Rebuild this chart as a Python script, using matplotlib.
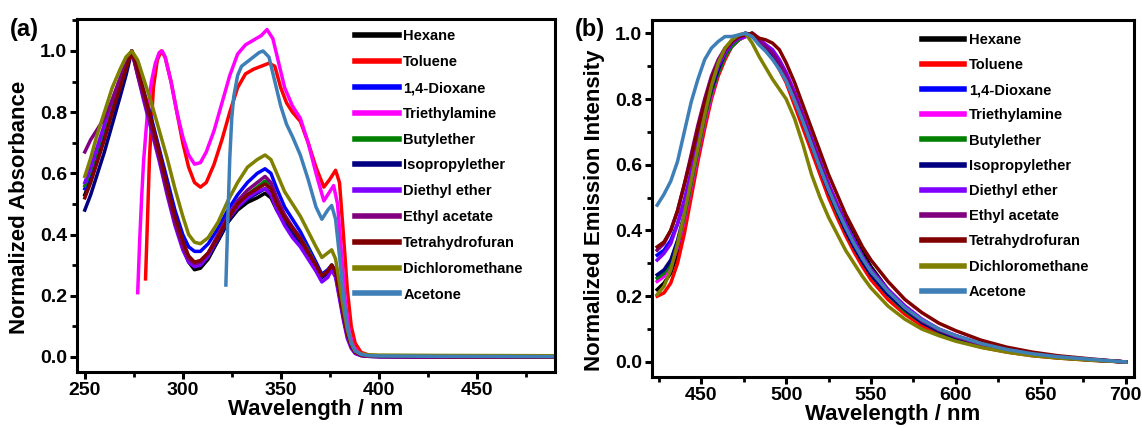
import matplotlib
matplotlib.use("Agg")
import matplotlib.pyplot as plt
from matplotlib.ticker import MultipleLocator

plt.rcParams['font.family'] = ['Liberation Sans', 'DejaVu Sans']
plt.rcParams['font.weight'] = 'bold'

solvents = ["Hexane", "Toluene", "1,4-Dioxane", "Triethylamine", "Butylether",
            "Isopropylether", "Diethyl ether", "Ethyl acetate", "Tetrahydrofuran",
            "Dichloromethane", "Acetone"]
colors = ["#000000", "#ff0000", "#0000ff", "#ff00ff", "#008000", "#000080",
          "#8000ff", "#800080", "#800000", "#808000", "#3f7fb8"]

# ---- (a) absorption ----
xa = [250, 253, 256, 260, 264, 268, 271, 274, 277, 280, 284, 288, 292, 296, 300, 303,
      306, 309, 313, 318, 323, 328, 333, 338, 342, 345, 348, 352, 356, 360, 364, 368,
      371, 374, 376, 378, 380, 382, 384, 386, 388, 391, 395, 400, 430, 490]
abs_hexane = [0.53, 0.58, 0.64, 0.72, 0.80, 0.88, 0.94, 1.00, 0.93, 0.86, 0.76, 0.66, 0.55, 0.44, 0.36, 0.31,
              0.285, 0.29, 0.32, 0.38, 0.44, 0.48, 0.505, 0.52, 0.535, 0.52, 0.48, 0.44, 0.40, 0.37, 0.33, 0.29,
              0.26, 0.275, 0.29, 0.27, 0.20, 0.13, 0.07, 0.035, 0.015, 0.006, 0.003, 0.002, 0.001, 0.0]
abs_dioxane = [0.55, 0.60, 0.66, 0.74, 0.82, 0.90, 0.95, 1.00, 0.94, 0.87, 0.78, 0.68, 0.58, 0.48, 0.40, 0.36,
               0.345, 0.345, 0.37, 0.42, 0.48, 0.53, 0.57, 0.60, 0.615, 0.60, 0.55, 0.49, 0.45, 0.41, 0.36, 0.31,
               0.27, 0.285, 0.30, 0.28, 0.21, 0.14, 0.08, 0.04, 0.018, 0.007, 0.003, 0.002, 0.001, 0.0]
abs_butyl = [0.56, 0.61, 0.67, 0.75, 0.83, 0.90, 0.95, 1.00, 0.93, 0.86, 0.76, 0.66, 0.55, 0.45, 0.37, 0.32,
             0.30, 0.305, 0.33, 0.39, 0.45, 0.50, 0.53, 0.555, 0.575, 0.56, 0.51, 0.46, 0.42, 0.39, 0.35, 0.30,
             0.265, 0.28, 0.30, 0.28, 0.21, 0.14, 0.075, 0.037, 0.016, 0.006, 0.003, 0.002, 0.001, 0.0]
abs_isopropyl = [0.48, 0.53, 0.59, 0.67, 0.76, 0.85, 0.92, 1.00, 0.93, 0.86, 0.76, 0.66, 0.55, 0.44, 0.36, 0.315,
                 0.295, 0.30, 0.33, 0.38, 0.44, 0.49, 0.515, 0.535, 0.55, 0.535, 0.49, 0.445, 0.41, 0.375, 0.335, 0.29,
                 0.26, 0.275, 0.295, 0.27, 0.20, 0.13, 0.07, 0.034, 0.014, 0.005, 0.002, 0.001, 0.0, 0.0]
abs_diethyl = [0.57, 0.62, 0.68, 0.76, 0.84, 0.91, 0.96, 1.00, 0.92, 0.84, 0.74, 0.64, 0.53, 0.43, 0.35, 0.31,
               0.295, 0.30, 0.33, 0.39, 0.45, 0.49, 0.52, 0.54, 0.55, 0.53, 0.48, 0.43, 0.39, 0.36, 0.32, 0.28,
               0.245, 0.26, 0.285, 0.26, 0.19, 0.12, 0.06, 0.028, 0.011, 0.004, 0.002, 0.001, 0.0, 0.0]
abs_ethylac = [0.67, 0.71, 0.74, 0.78, 0.84, 0.91, 0.96, 1.00, 0.92, 0.85, 0.75, 0.65, 0.54, 0.44, 0.36, 0.32,
               0.305, 0.31, 0.34, 0.40, 0.46, 0.51, 0.545, 0.57, 0.59, 0.57, 0.52, 0.465, 0.425, 0.39, 0.345, 0.30,
               0.265, 0.28, 0.30, 0.28, 0.21, 0.13, 0.07, 0.033, 0.014, 0.005, 0.002, 0.001, 0.0, 0.0]
abs_thf = [0.52, 0.57, 0.63, 0.71, 0.80, 0.88, 0.94, 1.00, 0.94, 0.87, 0.77, 0.67, 0.56, 0.46, 0.38, 0.33,
           0.31, 0.315, 0.34, 0.39, 0.45, 0.50, 0.53, 0.55, 0.565, 0.55, 0.50, 0.455, 0.42, 0.385, 0.34, 0.30,
           0.265, 0.28, 0.30, 0.28, 0.21, 0.14, 0.075, 0.037, 0.016, 0.006, 0.003, 0.002, 0.001, 0.0]
abs_dcm = [0.59, 0.65, 0.72, 0.80, 0.88, 0.94, 0.98, 1.00, 0.97, 0.91, 0.83, 0.74, 0.65, 0.55, 0.46, 0.40,
           0.375, 0.37, 0.39, 0.44, 0.51, 0.57, 0.62, 0.645, 0.66, 0.645, 0.60, 0.54, 0.50, 0.46, 0.41, 0.36,
           0.325, 0.34, 0.35, 0.32, 0.24, 0.16, 0.09, 0.045, 0.02, 0.01, 0.007, 0.006, 0.005, 0.004]

x_tol = [281, 282, 283, 285, 287, 289, 291, 294, 297, 300, 303, 306, 309, 312, 316, 320, 324, 328, 332, 336,
         340, 344, 347, 350, 353, 356, 360, 364, 368, 372, 375, 378, 380, 382, 384, 386, 388, 391, 395, 400, 430, 490]
abs_tol = [0.255, 0.45, 0.65, 0.88, 0.97, 1.0, 0.98, 0.90, 0.80, 0.70, 0.62, 0.57, 0.555, 0.57, 0.63, 0.71, 0.80, 0.88, 0.925, 0.94,
           0.95, 0.96, 0.95, 0.88, 0.83, 0.80, 0.77, 0.70, 0.62, 0.555, 0.58, 0.61, 0.57, 0.40, 0.22, 0.10, 0.045, 0.015, 0.006, 0.003, 0.001, 0.0]

x_tea = [277, 278, 279, 280, 282, 284, 286, 288, 289.5, 291, 294, 297, 300, 303, 306, 309, 312, 316, 320, 324, 328, 332,
         336, 340, 343, 346, 349, 352, 356, 360, 364, 368, 372, 375, 377, 379, 381, 383, 385, 387, 390, 395, 400, 430, 490]
abs_tea = [0.21, 0.38, 0.52, 0.64, 0.80, 0.90, 0.96, 0.995, 1.0, 0.98, 0.90, 0.80, 0.72, 0.66, 0.63, 0.635, 0.67, 0.74, 0.83, 0.92, 0.99, 1.02,
           1.035, 1.05, 1.07, 1.04, 0.96, 0.88, 0.82, 0.78, 0.70, 0.60, 0.51, 0.54, 0.56, 0.50, 0.34, 0.18, 0.08, 0.035, 0.012, 0.004, 0.002, 0.001, 0.0]

x_ace = [322, 323, 324, 325, 326, 328, 330, 333, 336, 339, 341, 344, 347, 350, 353, 356, 360, 364, 368, 371,
         374, 376, 378, 380, 382, 384, 386, 388, 391, 395, 400, 430, 490]
abs_ace = [0.235, 0.45, 0.65, 0.78, 0.85, 0.92, 0.95, 0.965, 0.98, 0.995, 1.0, 0.98, 0.90, 0.82, 0.76, 0.72, 0.66, 0.58, 0.49, 0.45,
           0.48, 0.495, 0.45, 0.33, 0.20, 0.10, 0.045, 0.02, 0.008, 0.004, 0.003, 0.002, 0.001]

abs_x = [xa, x_tol, xa, x_tea, xa, xa, xa, xa, xa, xa, x_ace]
abs_y = [abs_hexane, abs_tol, abs_dioxane, abs_tea, abs_butyl, abs_isopropyl,
         abs_diethyl, abs_ethylac, abs_thf, abs_dcm, abs_ace]

# ---- (b) emission ----
xb = [424, 428, 432, 436, 440, 444, 448, 452, 456, 460, 464, 468, 472, 476, 480, 484, 488, 492, 496, 500,
      505, 510, 515, 520, 525, 530, 535, 540, 545, 550, 560, 570, 580, 590, 600, 615, 630, 645, 660, 680, 700]
em_hexane = [0.22, 0.24, 0.27, 0.33, 0.42, 0.52, 0.62, 0.72, 0.81, 0.88, 0.93, 0.96, 0.98, 0.99, 1.0, 0.98, 0.96, 0.94, 0.91, 0.87,
             0.81, 0.74, 0.67, 0.60, 0.54, 0.48, 0.43, 0.38, 0.335, 0.29, 0.22, 0.165, 0.125, 0.095, 0.075, 0.05, 0.033, 0.021, 0.013, 0.006, 0.0]
em_tol = [0.20, 0.21, 0.24, 0.30, 0.39, 0.50, 0.61, 0.71, 0.80, 0.87, 0.92, 0.96, 0.98, 0.995, 1.0, 0.98, 0.955, 0.93, 0.89, 0.85,
          0.78, 0.71, 0.64, 0.57, 0.50, 0.44, 0.385, 0.335, 0.29, 0.25, 0.19, 0.145, 0.11, 0.085, 0.066, 0.045, 0.03, 0.019, 0.012, 0.005, 0.0]
em_dioxane = [0.325, 0.34, 0.37, 0.42, 0.49, 0.57, 0.66, 0.75, 0.83, 0.89, 0.94, 0.97, 0.99, 1.0, 0.995, 0.975, 0.955, 0.93, 0.90, 0.86,
              0.80, 0.73, 0.66, 0.59, 0.52, 0.46, 0.405, 0.355, 0.31, 0.27, 0.21, 0.16, 0.125, 0.097, 0.077, 0.053, 0.036, 0.024, 0.015, 0.007, 0.0]
em_tea = [0.245, 0.26, 0.29, 0.35, 0.43, 0.53, 0.63, 0.73, 0.81, 0.88, 0.93, 0.96, 0.98, 0.99, 1.0, 0.985, 0.965, 0.945, 0.915, 0.88,
          0.82, 0.75, 0.68, 0.61, 0.54, 0.48, 0.42, 0.37, 0.32, 0.28, 0.22, 0.17, 0.13, 0.10, 0.08, 0.055, 0.037, 0.024, 0.015, 0.007, 0.0]
em_butyl = [0.255, 0.27, 0.30, 0.36, 0.44, 0.54, 0.64, 0.74, 0.82, 0.88, 0.93, 0.96, 0.98, 0.995, 1.0, 0.98, 0.96, 0.935, 0.905, 0.865,
            0.80, 0.73, 0.66, 0.59, 0.52, 0.455, 0.40, 0.35, 0.305, 0.265, 0.205, 0.155, 0.12, 0.092, 0.072, 0.05, 0.033, 0.022, 0.014, 0.006, 0.0]
em_isopropyl = [0.265, 0.28, 0.31, 0.37, 0.45, 0.55, 0.65, 0.75, 0.83, 0.89, 0.94, 0.97, 0.99, 1.0, 0.995, 0.975, 0.955, 0.93, 0.90, 0.86,
                0.80, 0.73, 0.66, 0.59, 0.52, 0.46, 0.40, 0.35, 0.305, 0.265, 0.205, 0.16, 0.12, 0.094, 0.074, 0.051, 0.034, 0.022, 0.014, 0.006, 0.0]
em_diethyl = [0.31, 0.33, 0.36, 0.42, 0.49, 0.58, 0.67, 0.76, 0.84, 0.90, 0.94, 0.97, 0.985, 0.99, 1.0, 0.98, 0.965, 0.95, 0.92, 0.88,
              0.82, 0.75, 0.68, 0.61, 0.54, 0.48, 0.42, 0.37, 0.32, 0.28, 0.22, 0.17, 0.13, 0.10, 0.08, 0.055, 0.037, 0.024, 0.015, 0.007, 0.0]
em_ethylac = [0.34, 0.36, 0.40, 0.46, 0.54, 0.63, 0.72, 0.80, 0.87, 0.92, 0.955, 0.975, 0.99, 1.0, 0.99, 0.975, 0.96, 0.94, 0.91, 0.87,
              0.81, 0.74, 0.67, 0.60, 0.53, 0.47, 0.41, 0.36, 0.315, 0.275, 0.215, 0.165, 0.125, 0.097, 0.077, 0.053, 0.036, 0.023, 0.015, 0.007, 0.0]
em_thf = [0.35, 0.365, 0.40, 0.46, 0.54, 0.62, 0.71, 0.79, 0.86, 0.91, 0.95, 0.975, 0.99, 0.995, 1.0, 0.985, 0.98, 0.97, 0.95, 0.91,
          0.85, 0.78, 0.71, 0.64, 0.57, 0.51, 0.45, 0.40, 0.35, 0.31, 0.245, 0.19, 0.15, 0.118, 0.095, 0.066, 0.045, 0.03, 0.019, 0.009, 0.0]
em_dcm = [0.205, 0.23, 0.28, 0.36, 0.45, 0.55, 0.65, 0.75, 0.84, 0.91, 0.955, 0.98, 0.995, 1.0, 0.97, 0.93, 0.895, 0.86, 0.83, 0.80,
          0.74, 0.66, 0.57, 0.50, 0.44, 0.39, 0.34, 0.30, 0.26, 0.225, 0.17, 0.13, 0.10, 0.08, 0.063, 0.044, 0.03, 0.019, 0.012, 0.005, 0.0]
em_ace = [0.477, 0.51, 0.55, 0.61, 0.70, 0.79, 0.86, 0.92, 0.955, 0.975, 0.99, 0.99, 0.995, 1.0, 0.99, 0.965, 0.945, 0.92, 0.89, 0.855,
          0.795, 0.73, 0.66, 0.59, 0.525, 0.465, 0.41, 0.36, 0.315, 0.275, 0.215, 0.165, 0.128, 0.10, 0.08, 0.056, 0.038, 0.025, 0.016, 0.008, 0.0]

em_y = [em_hexane, em_tol, em_dioxane, em_tea, em_butyl, em_isopropyl,
        em_diethyl, em_ethylac, em_thf, em_dcm, em_ace]


fig = plt.figure(figsize=(11.42, 4.28), dpi=100)
ax1 = fig.add_axes([0.0674, 0.131, 0.4186, 0.825])
ax2 = fig.add_axes([0.571, 0.119, 0.422, 0.834])

for i in range(len(solvents)):
    ax1.plot(abs_x[i], abs_y[i], color=colors[i], lw=2.5, label=solvents[i])
    ax2.plot(xb, em_y[i], color=colors[i], lw=2.5, label=solvents[i])


def style(ax, xlim, ylim, ylabel):
    ax.set_xlim(xlim)
    ax.set_ylim(ylim)
    ax.xaxis.set_major_locator(MultipleLocator(50))
    ax.xaxis.set_minor_locator(MultipleLocator(25))
    ax.yaxis.set_major_locator(MultipleLocator(0.2))
    ax.yaxis.set_minor_locator(MultipleLocator(0.1))
    ax.yaxis.set_major_formatter(plt.FormatStrFormatter('%.1f'))
    for s in ax.spines.values():
        s.set_linewidth(2.2)
    ax.tick_params(which='major', direction='out', length=5, width=2.2, labelsize=14, pad=2)
    ax.tick_params(which='minor', direction='out', length=3.5, width=2.0)
    ax.set_xlabel("Wavelength / nm", fontsize=16, fontweight='bold', labelpad=0)
    ax.set_ylabel(ylabel, fontsize=16, fontweight='bold')


style(ax1, (246, 490), (-0.049, 1.105), "Normalized Absorbance")
style(ax2, (421, 705), (-0.046, 1.04), "Normalized Emission Intensity")
ax1.yaxis.set_label_coords(-0.098, 0.467)
ax2.yaxis.set_label_coords(-0.098, 0.468)

ax1.legend(loc='upper left', bbox_to_anchor=(0.582, 0.97), frameon=False, fontsize=10.5,
           handlelength=3.0, handletextpad=0.3, labelspacing=0.81, borderpad=0, borderaxespad=0)
ax2.legend(loc='upper left', bbox_to_anchor=(0.560, 0.965), frameon=False, fontsize=10.5,
           handlelength=2.9, handletextpad=0.3, labelspacing=0.77, borderpad=0, borderaxespad=0)
for leg in [ax1.get_legend(), ax2.get_legend()]:
    for line in leg.get_lines():
        line.set_linewidth(4)

fig.text(0.009, 0.958, "(a)", fontsize=17, fontweight='bold', va='top')
fig.text(0.5035, 0.958, "(b)", fontsize=17, fontweight='bold', va='top')

fig.savefig("out.png", dpi=100)
